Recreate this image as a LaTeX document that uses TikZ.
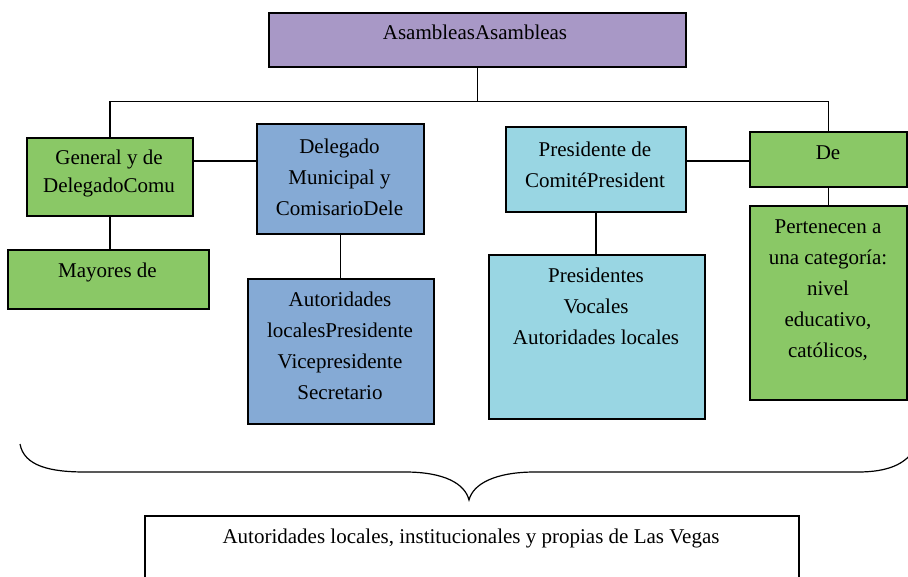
\documentclass[tikz,border=0pt]{standalone}
\usepackage{fontspec}
\setmainfont{Liberation Serif}
\definecolor{cpurple}{RGB}{168,152,198}
\definecolor{cgreen}{RGB}{138,200,102}
\definecolor{cblue}{RGB}{133,170,213}
\definecolor{ccyan}{RGB}{153,214,227}
\begin{document}
\begin{tikzpicture}[x=1pt,y=-1pt,
  box/.style={draw=black, line width=1.8pt, anchor=north west, inner sep=0pt},
  conn/.style={draw=black, line width=1.3pt},
  txt/.style={align=center, inner sep=0pt, anchor=north, font=\fontsize{21}{31}\selectfont},
  txtb/.style={txt, font=\fontsize{21}{28}\selectfont}]
\useasboundingbox (0,0) rectangle (908,577);
\clip (0,0) rectangle (908,577);
% boxes
\node[box, fill=cpurple, minimum width=417pt, minimum height=54pt] (top) at (268,12) {};
\node[box, fill=cgreen, minimum width=166pt, minimum height=78pt] (gen) at (26,137) {};
\node[box, fill=cblue, minimum width=167pt, minimum height=110pt] (del) at (256,123) {};
\node[box, fill=ccyan, minimum width=180pt, minimum height=85pt] (pres) at (505,126) {};
\node[box, fill=cgreen, minimum width=157pt, minimum height=55pt] (de) at (749,131) {};
\node[box, fill=cgreen, minimum width=201pt, minimum height=59pt] (may) at (7,249) {};
\node[box, fill=cblue, minimum width=186pt, minimum height=145pt] (aut) at (247,278) {};
\node[box, fill=ccyan, minimum width=216pt, minimum height=164pt] (pts) at (488,254) {};
\node[box, fill=cgreen, minimum width=157pt, minimum height=194pt] (per) at (749,205) {};
\node[box, fill=white, minimum width=654pt, minimum height=90pt] (bot) at (144,515) {};
% texts
\node[txt] (topt) at (475,18) {\strut AsambleasAsambleas};
\node[txtb] (gent) at (109,145) {\strut General y de\\\strut DelegadoComu};
\node[txt] (delt) at (339.5,132) {\strut Delegado\\\strut Municipal y\\\strut ComisarioDele};
\node[txt] (prest) at (595,135) {\strut Presidente de\\\strut ComitéPresident};
\node[txt] (det) at (828,138) {\strut De};
\node[txt] (mayt) at (107.5,256) {\strut Mayores de};
\node[txt] (autt) at (340,285) {\strut Autoridades\\\strut localesPresidente\\\strut Vicepresidente\\\strut Secretario};
\node[txt] (ptst) at (596,261) {\strut Presidentes\\\strut Vocales\\\strut Autoridades locales};
\node[txt] (pert) at (828,212) {\strut Pertenecen a\\\strut una categoría:\\\strut nivel\\\strut educativo,\\\strut católicos,};
\node[txt] (bott) at (471,522) {\strut Autoridades locales, institucionales y propias de Las Vegas};
% connectors
\draw[conn] (top.south) -- ++(0,34) coordinate (bar);
\draw[conn] (gen.north) |- (bar) -| (de.north);
\draw[conn] (gen.north east) ++(0,24) coordinate (g1) -- (g1 -| del.west);
\draw[conn] (pres.north east) ++(0,35) coordinate (p1) -- (p1 -| de.west);
\draw[conn] (gen.south) -- (gen.south |- may.north);
\draw[conn] (del.south) -- (del.south |- aut.north);
\draw[conn] (pres.south) -- (pres.south |- pts.north);
\draw[conn] (de.south) -- (de.south |- per.north);
% brace
\coordinate (bl) at (20,444);
\coordinate (bt) at (469,500);
\coordinate (br) at (914,450);
\draw[line width=1.2pt] (bl) .. controls (24,466) and (50,472) .. (85,472) -- (405,472)
  .. controls (445,472) and (465,484) .. (bt)
  .. controls (473,484) and (495,472) .. (535,472) -- (858,472)
  .. controls (888,472) and (905,464) .. (br);
\end{tikzpicture}
\end{document}
